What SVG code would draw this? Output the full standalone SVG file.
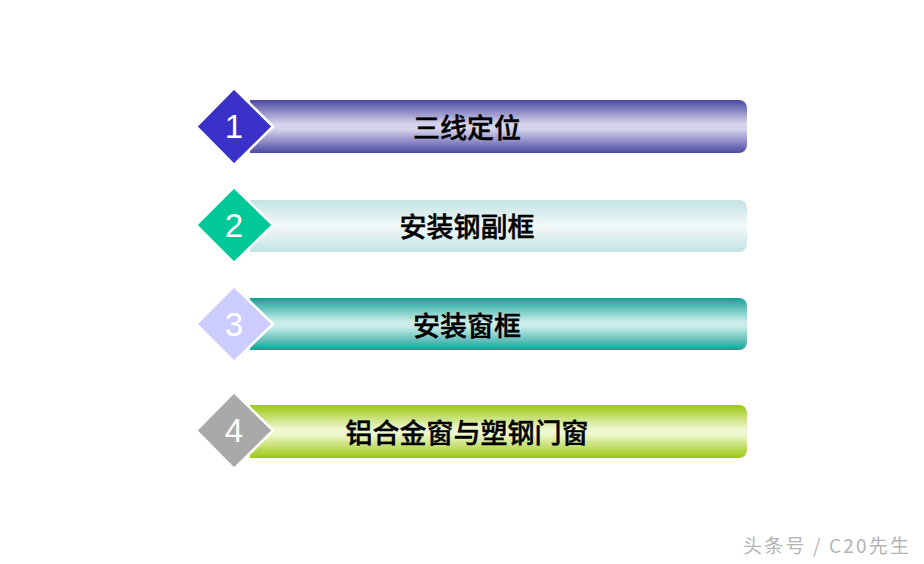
<svg xmlns="http://www.w3.org/2000/svg" width="924" height="564" viewBox="0 0 924 564">
<defs>
<linearGradient id="g1" x1="0" y1="0" x2="0" y2="1">
<stop offset="0" stop-color="#4b48a2"/><stop offset="0.45" stop-color="#d6d4ec"/><stop offset="0.55" stop-color="#d6d4ec"/><stop offset="1" stop-color="#4b48a2"/>
</linearGradient>
<linearGradient id="g2" x1="0" y1="0" x2="0" y2="1">
<stop offset="0" stop-color="#c2e3e3"/><stop offset="0.5" stop-color="#f4f9f9"/><stop offset="1" stop-color="#c2e3e3"/>
</linearGradient>
<linearGradient id="g3" x1="0" y1="0" x2="0" y2="1">
<stop offset="0" stop-color="#17a098"/><stop offset="0.45" stop-color="#c9ece9"/><stop offset="0.55" stop-color="#c9ece9"/><stop offset="1" stop-color="#17a098"/>
</linearGradient>
<linearGradient id="g4" x1="0" y1="0" x2="0" y2="1">
<stop offset="0" stop-color="#9ac812"/><stop offset="0.45" stop-color="#eff7cf"/><stop offset="0.55" stop-color="#eff7cf"/><stop offset="1" stop-color="#9ac812"/>
</linearGradient>
<style>
.lbl{font-family:"Noto Sans CJK SC","Noto Sans CJK JP",sans-serif;font-size:27px;font-weight:500;fill:#000;stroke:#000;stroke-width:0.4;text-anchor:middle}
.num{font-family:"Liberation Sans",Arial,sans-serif;font-size:33px;fill:#fff;text-anchor:middle}
.dia{stroke:#fff;stroke-width:2.5}
.wm{font-family:"Noto Sans CJK SC",sans-serif;font-size:19px;fill:#b4b4b4}
</style>
</defs>
<g id="node1">
<path d="M250 100 H739 A8 8 0 0 1 747 108 V145 A8 8 0 0 1 739 153 H250 Z" fill="url(#g1)"/>
<polygon class="dia" points="234,88 273,126.5 234,165 196,126.5" fill="#3a32c8"/>
<text class="num" x="234" y="138">1</text>
<text class="lbl" x="467" y="138">三线定位</text>
</g>
<g id="node2">
<path d="M250 200 H739 A8 8 0 0 1 747 208 V244 A8 8 0 0 1 739 252 H250 Z" fill="url(#g2)"/>
<polygon class="dia" points="234,187 273,225 234,263 196,225" fill="#00c896"/>
<text class="num" x="234" y="237">2</text>
<text class="lbl" x="467" y="237">安装钢副框</text>
</g>
<g id="node3">
<path d="M250 298 H739 A8 8 0 0 1 747 306 V342 A8 8 0 0 1 739 350 H250 Z" fill="url(#g3)"/>
<polygon class="dia" points="234,286 273,324 234,362 196,324" fill="#ccccfe"/>
<text class="num" x="234" y="336">3</text>
<text class="lbl" x="467" y="336">安装窗框</text>
</g>
<g id="node4">
<path d="M250 405 H739 A8 8 0 0 1 747 413 V450 A8 8 0 0 1 739 458 H250 Z" fill="url(#g4)"/>
<polygon class="dia" points="234,392 273,430.5 234,469 196,430.5" fill="#a9a9a9"/>
<text class="num" x="234" y="442">4</text>
<text class="lbl" x="467" y="443">铝合金窗与塑钢门窗</text>
</g>
<g id="connectors"></g>
<text class="wm" x="743" y="553" textLength="166" lengthAdjust="spacing">头条号 / C20先生</text>
</svg>
